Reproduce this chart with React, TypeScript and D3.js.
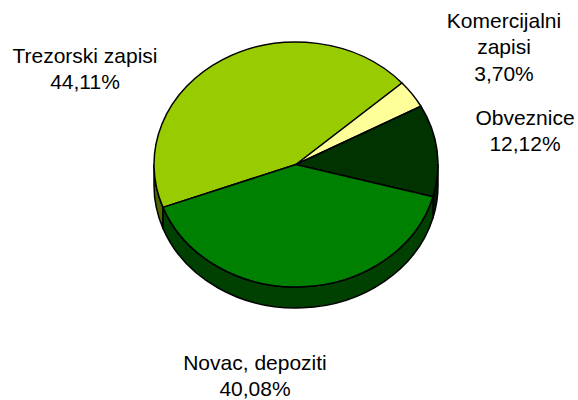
import React from 'react'
import * as d3 from 'd3'

// slices in drawing order (clockwise)
const categories = ['Trezorski zapisi', 'Komercijalni zapisi', 'Obveznice', 'Novac, depoziti']
const values = [44.11, 3.7, 12.12, 40.08]
const labelLines = [
  ['Trezorski zapisi', '44,11%'],
  ['Komercijalni', 'zapisi', '3,70%'],
  ['Obveznice', '12,12%'],
  ['Novac, depoziti', '40,08%'],
]
const topColors = ['#99CC00', '#FFFF99', '#003300', '#008000']
const sideColors = ['#4D6600', '#808050', '#001A00', '#004000']

// label anchor (center x, first baseline y)
const labelPos = [
  [85, 63],
  [504, 28],
  [525, 125],
  [255, 370],
]

const width = 578
const height = 400
const cx = 296
const cy = 164.5
const rx = 142
const ry = 122.5
const depth = 21
const startDeg = -110.5

export default function App() {
  const k = ry / rx
  const D = depth / k
  const R = rx

  const pie = d3
    .pie<number>()
    .sort(null)
    .startAngle((startDeg * Math.PI) / 180)
    .endAngle((startDeg * Math.PI) / 180 + 2 * Math.PI)
  const arcs = pie(values)

  const arc = d3.arc<d3.PieArcDatum<number>>().innerRadius(0).outerRadius(R)

  // visible front side walls: lower half of the ellipse
  const sides: { d: string; i: number }[] = []
  arcs.forEach((a, i) => {
    const ranges = [
      [Math.PI / 2, (3 * Math.PI) / 2],
      [Math.PI / 2 - 2 * Math.PI, (3 * Math.PI) / 2 - 2 * Math.PI],
    ]
    ranges.forEach(([lo, hi]) => {
      const s = Math.max(a.startAngle, lo)
      const e = Math.min(a.endAngle, hi)
      if (e <= s) return
      const p = d3.path()
      p.moveTo(R * Math.sin(s), -R * Math.cos(s))
      p.arc(0, 0, R, s - Math.PI / 2, e - Math.PI / 2, false)
      p.lineTo(R * Math.sin(e), -R * Math.cos(e) + D)
      p.arc(0, D, R, e - Math.PI / 2, s - Math.PI / 2, true)
      p.closePath()
      sides.push({ d: p.toString(), i })
    })
  })

  return (
    <div style={{ position: 'absolute', left: 0, top: 0 }}>
      <svg width={width} height={height} style={{ display: 'block' }}>
        <rect width={width} height={height} fill="#fff" />
        <g transform={`translate(${cx},${cy}) scale(1,${k})`}>
          {sides.map((s, j) => (
            <path
              key={'s' + j}
              d={s.d}
              fill={sideColors[s.i]}
              stroke="#000"
              strokeWidth={1.5}
              strokeLinejoin="round"
              vectorEffect="non-scaling-stroke"
            />
          ))}
          {arcs.map((a, i) => (
            <path
              key={categories[i]}
              d={arc(a) || ''}
              fill={topColors[i]}
              stroke="#000"
              strokeWidth={1.5}
              strokeLinejoin="round"
              vectorEffect="non-scaling-stroke"
            />
          ))}
        </g>
        <g fontFamily="'Liberation Sans', Arial, sans-serif" fontSize={21} fill="#000" textAnchor="middle">
          {labelLines.map((lines, i) => (
            <text key={i} x={labelPos[i][0]} y={labelPos[i][1]}>
              {lines.map((l, j) => (
                <tspan key={j} x={labelPos[i][0]} dy={j === 0 ? 0 : 26.3}>
                  {l}
                </tspan>
              ))}
            </text>
          ))}
        </g>
      </svg>
    </div>
  )
}
